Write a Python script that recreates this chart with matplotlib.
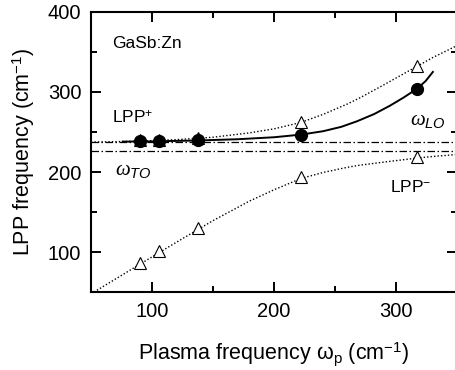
import matplotlib
matplotlib.use("Agg")
import matplotlib.pyplot as plt

plt.rcParams['font.family'] = ['Liberation Sans', 'DejaVu Sans']
plt.rcParams['mathtext.fontset'] = 'custom'
plt.rcParams['mathtext.rm'] = 'Liberation Sans'
plt.rcParams['mathtext.it'] = 'Liberation Serif:italic'
plt.rcParams['mathtext.sf'] = 'Liberation Sans:italic'

# measured points (plasma frequency, cm-1)
wp = [90, 106, 138, 222, 317]
lpp_plus_fit = [238.5, 238.7, 239.6, 246.6, 304.0]      # filled circles
lpp_plus_tri = [240.0, 240.0, 243.0, 262.2, 332.5]      # open triangles, upper branch
lpp_minus_tri = [86.8, 101.5, 130.5, 193.6, 219.0]      # open triangles, lower branch

# dotted coupled-mode curves
curve_x = [50, 70, 90, 120, 150, 180, 200, 222, 240, 260, 270, 290, 317, 330, 350]
curve_upper = [237.5, 238.0, 238.8, 240.5, 243.5, 249.0, 254.0, 262.0, 272.0,
               285.0, 292.5, 309.0, 332.0, 343.0, 358.0]
curve_lower = [48.0, 66.5, 85.0, 112.5, 139.5, 164.0, 178.0, 192.0, 199.5,
               206.0, 208.6, 212.5, 217.5, 219.5, 222.0]

# solid line through the filled circles
solid_x = [76, 100, 138, 170, 200, 222, 240, 255, 268, 282, 295, 306, 317, 324, 330]
solid_y = [238.0, 238.3, 239.5, 241.0, 243.5, 246.8, 251.0, 256.5, 263.5, 272.5,
           283.0, 293.0, 304.0, 313.5, 325.0]

w_lo = 238.0
w_to = 226.0

fig = plt.figure(figsize=(4.55, 3.70), dpi=100)
ax = fig.add_axes([0.2, 0.21, 0.805, 0.758])

ax.axhline(w_lo, color='black', lw=0.9, ls=(0, (6, 2, 1.2, 2)))
ax.axhline(w_to, color='black', lw=0.9, ls=(0, (6, 2, 1.2, 2)))

ax.plot(curve_x, curve_upper, color='black', lw=1.0, ls=(0, (1, 1.5)))
ax.plot(curve_x, curve_lower, color='black', lw=1.0, ls=(0, (1, 1.5)))
ax.plot(solid_x, solid_y, color='black', lw=1.4)

ax.plot(wp, lpp_plus_tri, ls='none', marker='^', ms=9, mfc='white', mec='black', mew=0.8)
ax.plot(wp, lpp_minus_tri, ls='none', marker='^', ms=9, mfc='white', mec='black', mew=0.8)
ax.plot(wp, lpp_plus_fit, ls='none', marker='o', ms=8.5, color='black')

ax.set_xlim(50, 350)
ax.set_ylim(50, 400)
ax.set_xticks([100, 200, 300])
ax.set_xticks([50, 150, 250, 350], minor=True)
ax.set_yticks([100, 200, 300, 400])
ax.set_yticks([150, 250, 350], minor=True)

ax.tick_params(which='both', direction='in', top=True, right=True, width=1.4, labelsize=14.5)
ax.tick_params(which='major', length=7, pad=7)
ax.tick_params(which='minor', length=4.5)
for sp in ax.spines.values():
    sp.set_linewidth(1.5)

ax.set_xlabel(r'Plasma frequency $\mathrm{\omega_p}$ (cm$^{\mathrm{-1}}$)', fontsize=15.5, labelpad=14)
ax.set_ylabel(r'LPP frequency (cm$^{\mathrm{-1}}$)', fontsize=15.5, labelpad=8)

ax.text(67, 355, 'GaSb:Zn', fontsize=12.5, va='baseline')
ax.text(67.5, 261, r'LPP$^{+}$', fontsize=12.5, va='baseline')
ax.text(294.5, 175.5, r'LPP$^{-}$', fontsize=12.5, va='baseline')
ax.text(69.5, 196, r'$\omega_{\mathsf{TO}}$', fontsize=15, va='baseline')
ax.text(311.5, 259, r'$\omega_{\mathsf{LO}}$', fontsize=15, va='baseline')

fig.savefig('out.png', dpi=100)
